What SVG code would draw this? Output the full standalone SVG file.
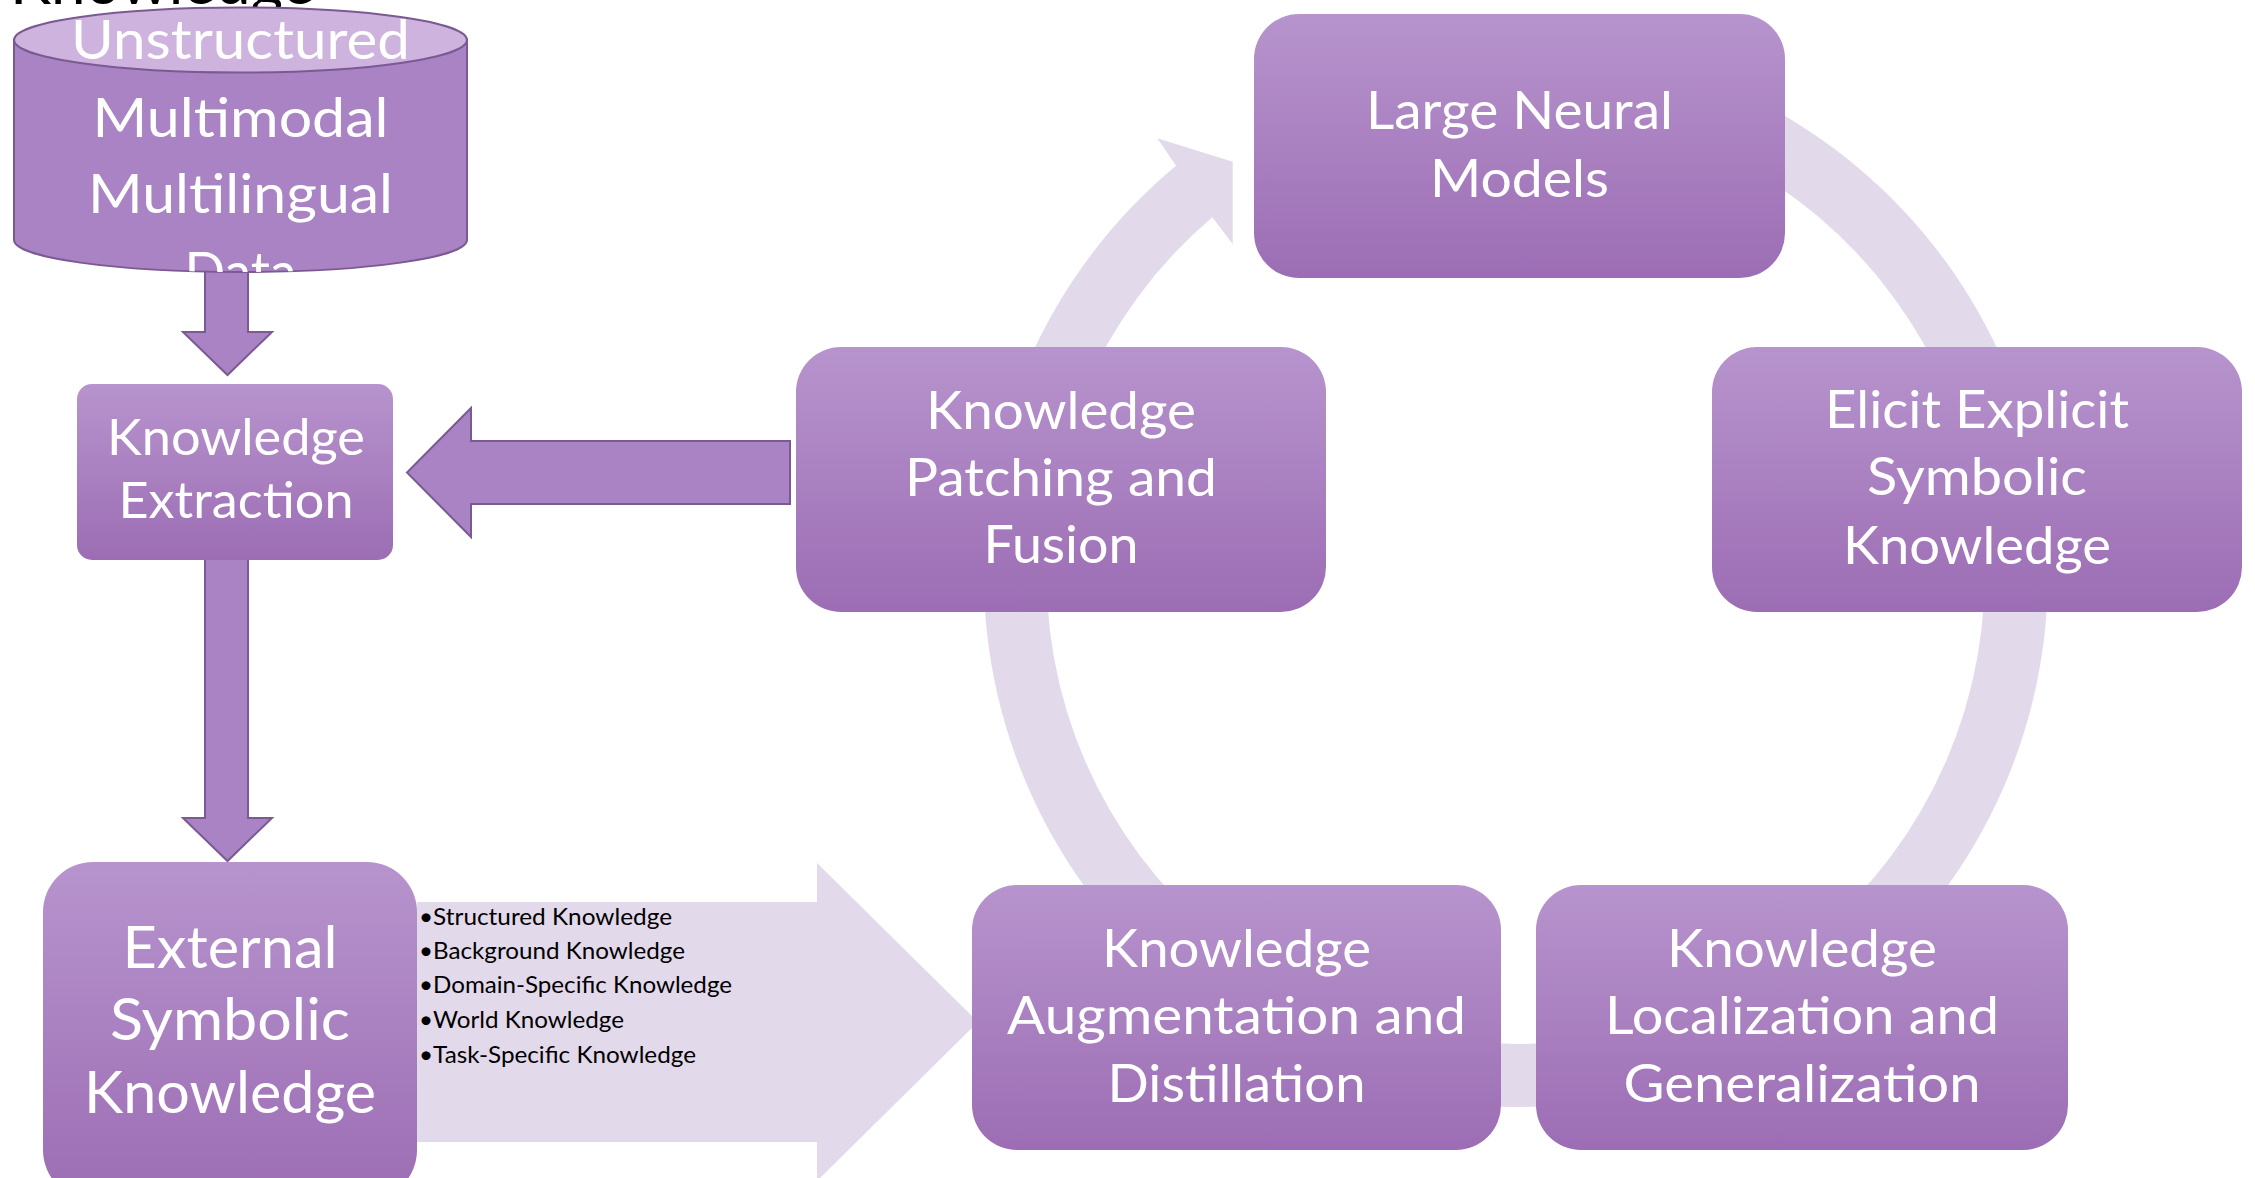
<svg xmlns="http://www.w3.org/2000/svg" width="2255" height="1178" viewBox="0 0 2255 1178">
<defs>
<linearGradient id="boxGrad" x1="0" y1="0" x2="0" y2="1">
<stop offset="0" stop-color="#b794cd"/>
<stop offset="1" stop-color="#9c6db4"/>
</linearGradient>
<clipPath id="cylClip">
<path d="M14 40 L14 240 A226.5 32 0 0 0 467 240 L467 40 Z M14 40 A226.5 32 0 0 1 467 40 Z"/>
<ellipse cx="240.5" cy="40" rx="226.5" ry="33"/>
</clipPath>
</defs>
<style>
.t{font-family:Lato,"Open Sans",sans-serif;fill:#fff;text-anchor:middle}
.c{font-size:53px}
.box{fill:url(#boxGrad)}
.ring{fill:#e2d9eb}
.arr{fill:#a983c4;stroke:#7b5a93;stroke-width:2;stroke-linejoin:miter}
.lst{font-family:Lato,"Open Sans",sans-serif;font-size:23px;fill:#000}
</style>
<rect width="2255" height="1178" fill="#fff"/>

<g id="title">
<text x="162.5" y="4" font-family="Lato, 'Open Sans', sans-serif" font-size="61" fill="#000" text-anchor="middle" textLength="305" lengthAdjust="spacingAndGlyphs">Knowledge</text>
</g>

<g id="connectors">
<path class="ring" d="M1518 43 A532 532 0 1 1 1176 165.7 L1157.3 138.3 L1232.7 161.7 L1232.7 244 L1212.3 217.3 A469 469 0 1 0 1518 106 Z"/>
<path class="arr" d="M205 268 H248 V332 H272 L227.5 375 L183 332 H205 Z"/>
<path class="arr" d="M205 550 H248 V818 H272 L227.5 861 L183 818 H205 Z"/>
<path class="arr" d="M790 441 V504 H471 V537 L407 472.5 L471 408 V441 Z"/>
<path class="ring" d="M417 902 H817 V863 L978 1022 L817 1181 V1142 H417 Z"/>
<text class="lst" x="419" y="925" textLength="253" lengthAdjust="spacingAndGlyphs">•Structured Knowledge</text>
<text class="lst" x="419" y="959" textLength="266" lengthAdjust="spacingAndGlyphs">•Background Knowledge</text>
<text class="lst" x="419" y="993" textLength="313" lengthAdjust="spacingAndGlyphs">•Domain-Specific Knowledge</text>
<text class="lst" x="419" y="1028" textLength="205" lengthAdjust="spacingAndGlyphs">•World Knowledge</text>
<text class="lst" x="419" y="1063" textLength="277" lengthAdjust="spacingAndGlyphs">•Task-Specific Knowledge</text>
</g>

<g id="unstructured-data">
<path d="M14 40 L14 240 A226.5 32 0 0 0 467 240 L467 40 Z" fill="#a983c4" stroke="#7b5a93" stroke-width="2"/>
<ellipse cx="240.5" cy="40" rx="226.5" ry="32.5" fill="#ceb3de" stroke="#7b5a93" stroke-width="2"/>
<g clip-path="url(#cylClip)">
<text class="t" x="240.5" y="59" font-size="55" textLength="339" lengthAdjust="spacingAndGlyphs">Unstructured</text>
<text class="t" x="240.5" y="137" font-size="55" textLength="296" lengthAdjust="spacingAndGlyphs">Multimodal</text>
<text class="t" x="240.5" y="213" font-size="55" textLength="305" lengthAdjust="spacingAndGlyphs">Multilingual</text>
<text class="t" x="240.5" y="291" font-size="55" textLength="112" lengthAdjust="spacingAndGlyphs">Data</text>
</g>
</g>

<g id="knowledge-extraction">
<rect class="box" x="77" y="384" width="316" height="176" rx="15"/>
<text class="t" x="236" y="455" font-size="50" textLength="258" lengthAdjust="spacingAndGlyphs">Knowledge</text>
<text class="t" x="236" y="518" font-size="50" textLength="235" lengthAdjust="spacingAndGlyphs">Extraction</text>
</g>

<g id="external-symbolic-knowledge">
<rect class="box" x="43" y="862" width="374" height="338" rx="50"/>
<text class="t" x="230" y="968" font-size="58" textLength="215" lengthAdjust="spacingAndGlyphs">External</text>
<text class="t" x="230" y="1040" font-size="58" textLength="240" lengthAdjust="spacingAndGlyphs">Symbolic</text>
<text class="t" x="230" y="1113" font-size="58" textLength="292" lengthAdjust="spacingAndGlyphs">Knowledge</text>
</g>

<g id="large-neural-models">
<rect class="box" x="1254" y="14" width="531" height="264" rx="45"/>
<text class="t c" x="1519.5" y="129" textLength="307" lengthAdjust="spacingAndGlyphs">Large Neural</text>
<text class="t c" x="1519.5" y="197" textLength="179" lengthAdjust="spacingAndGlyphs">Models</text>
</g>

<g id="elicit-explicit-symbolic-knowledge">
<rect class="box" x="1712" y="347" width="530" height="265" rx="45"/>
<text class="t c" x="1977" y="428" textLength="304" lengthAdjust="spacingAndGlyphs">Elicit Explicit</text>
<text class="t c" x="1977" y="495" textLength="220" lengthAdjust="spacingAndGlyphs">Symbolic</text>
<text class="t c" x="1977" y="564" textLength="268" lengthAdjust="spacingAndGlyphs">Knowledge</text>
</g>

<g id="knowledge-patching-and-fusion">
<rect class="box" x="796" y="347" width="530" height="265" rx="45"/>
<text class="t c" x="1061" y="429" textLength="270" lengthAdjust="spacingAndGlyphs">Knowledge</text>
<text class="t c" x="1061" y="496" textLength="312" lengthAdjust="spacingAndGlyphs">Patching and</text>
<text class="t c" x="1061" y="563" textLength="155" lengthAdjust="spacingAndGlyphs">Fusion</text>
</g>

<g id="knowledge-augmentation-and-distillation">
<rect class="box" x="972" y="885" width="529" height="265" rx="45"/>
<text class="t c" x="1236.5" y="967" textLength="269" lengthAdjust="spacingAndGlyphs">Knowledge</text>
<text class="t c" x="1236.5" y="1034" textLength="459" lengthAdjust="spacingAndGlyphs">Augmentation and</text>
<text class="t c" x="1236.5" y="1102" textLength="258" lengthAdjust="spacingAndGlyphs">Distillation</text>
</g>

<g id="knowledge-localization-and-generalization">
<rect class="box" x="1536" y="885" width="532" height="265" rx="45"/>
<text class="t c" x="1802" y="967" textLength="270" lengthAdjust="spacingAndGlyphs">Knowledge</text>
<text class="t c" x="1802" y="1034" textLength="394" lengthAdjust="spacingAndGlyphs">Localization and</text>
<text class="t c" x="1802" y="1102" textLength="357" lengthAdjust="spacingAndGlyphs">Generalization</text>
</g>
</svg>
